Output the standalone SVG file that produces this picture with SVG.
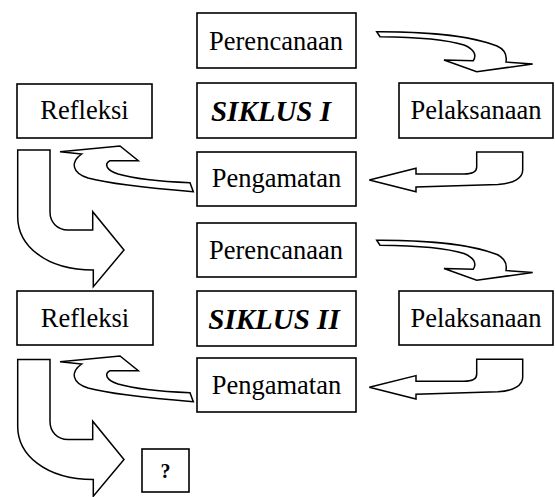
<svg xmlns="http://www.w3.org/2000/svg" xmlns:xlink="http://www.w3.org/1999/xlink" width="555" height="497" viewBox="0 0 555 497">
<style>
.box{fill:#fff;stroke:#000;stroke-width:1.6}
.arr{fill:#fff;stroke:#000;stroke-width:1.5;stroke-linejoin:miter}
.t{font-family:"Liberation Serif","Times New Roman",serif;font-size:26.5px;fill:#000;text-anchor:middle}
.s{font-family:"Liberation Serif","Times New Roman",serif;font-size:29px;font-weight:bold;font-style:italic;fill:#000;text-anchor:middle}
.q{font-family:"Liberation Serif","Times New Roman",serif;font-size:20px;font-weight:bold;fill:#000;text-anchor:middle}
</style>
<defs>
<path id="arrA" class="arr" d="M376.7,31.7 C420,31.5 470,35 497,46 C506,50 507,56 506,62 L532.7,64 L476.7,71.7 L444,60 L473.3,60.7 C477,55 474,49 464,45 C445,39 415,37 380,36.7 Z"/>
<path id="arrB" class="arr" d="M476.7,152 L476.7,167 C476.7,172 472,174 464,174 L416,174 L416,168.3 L369.3,180 L416,191.7 L416,187 L498,184.5 C514,183.5 522.7,178 522.7,170 L522.7,152 Z"/>
<path id="arrC" class="arr" d="M193.3,191.7 C160,189 110,184 88,178 C72,173 70,162 81.7,154 L60,151.7 L120,146 L138.3,160.7 L110,160.7 C104,164 106,170 118,174 C135,179 160,181.5 190,182.7 Z"/>
<path id="arrD" class="arr" d="M17.7,150 L17.7,216.7 C17.7,245 45,270 93.3,270 L93.3,286.7 L124,250 L92.7,211.7 L92.7,230 L68,230 C57,230 50,222 50,212 L50,150 Z"/>
</defs>
<g id="connectors">
<use xlink:href="#arrA"/>
<use xlink:href="#arrB"/>
<use xlink:href="#arrC"/>
<use xlink:href="#arrD"/>
<use xlink:href="#arrA" transform="translate(0,208.5)"/>
<use xlink:href="#arrB" transform="translate(0,207.3)"/>
<use xlink:href="#arrC" transform="translate(0,210)"/>
<use xlink:href="#arrD" transform="translate(0,209.5)"/>
</g>
<g id="perencanaan1"><rect class="box" x="197" y="13" width="159" height="55"/><text class="t" x="276" y="50">Perencanaan</text></g>
<g id="siklus1"><rect class="box" x="197" y="83" width="159" height="55"/><text class="s" x="271" y="120.5">SIKLUS I</text></g>
<g id="refleksi1"><rect class="box" x="17" y="84" width="135" height="54"/><text class="t" x="84.5" y="119">Refleksi</text></g>
<g id="pelaksanaan1"><rect class="box" x="399" y="83" width="154" height="55"/><text class="t" x="476" y="119">Pelaksanaan</text></g>
<g id="pengamatan1"><rect class="box" x="197" y="152" width="159" height="54"/><text class="t" x="276.5" y="187">Pengamatan</text></g>
<g id="perencanaan2"><rect class="box" x="197" y="223" width="159" height="54"/><text class="t" x="276" y="259">Perencanaan</text></g>
<g id="siklus2"><rect class="box" x="197" y="291" width="159" height="55"/><text class="s" x="274" y="328.5">SIKLUS II</text></g>
<g id="refleksi2"><rect class="box" x="17" y="291" width="136" height="54"/><text class="t" x="85" y="327">Refleksi</text></g>
<g id="pelaksanaan2"><rect class="box" x="399" y="291" width="154" height="54"/><text class="t" x="476" y="327">Pelaksanaan</text></g>
<g id="pengamatan2"><rect class="box" x="197" y="358" width="159" height="54"/><text class="t" x="276.5" y="394">Pengamatan</text></g>
<g id="question"><rect class="box" x="142" y="449" width="47" height="43"/><text class="q" x="165.5" y="477.5">?</text></g>
</svg>
